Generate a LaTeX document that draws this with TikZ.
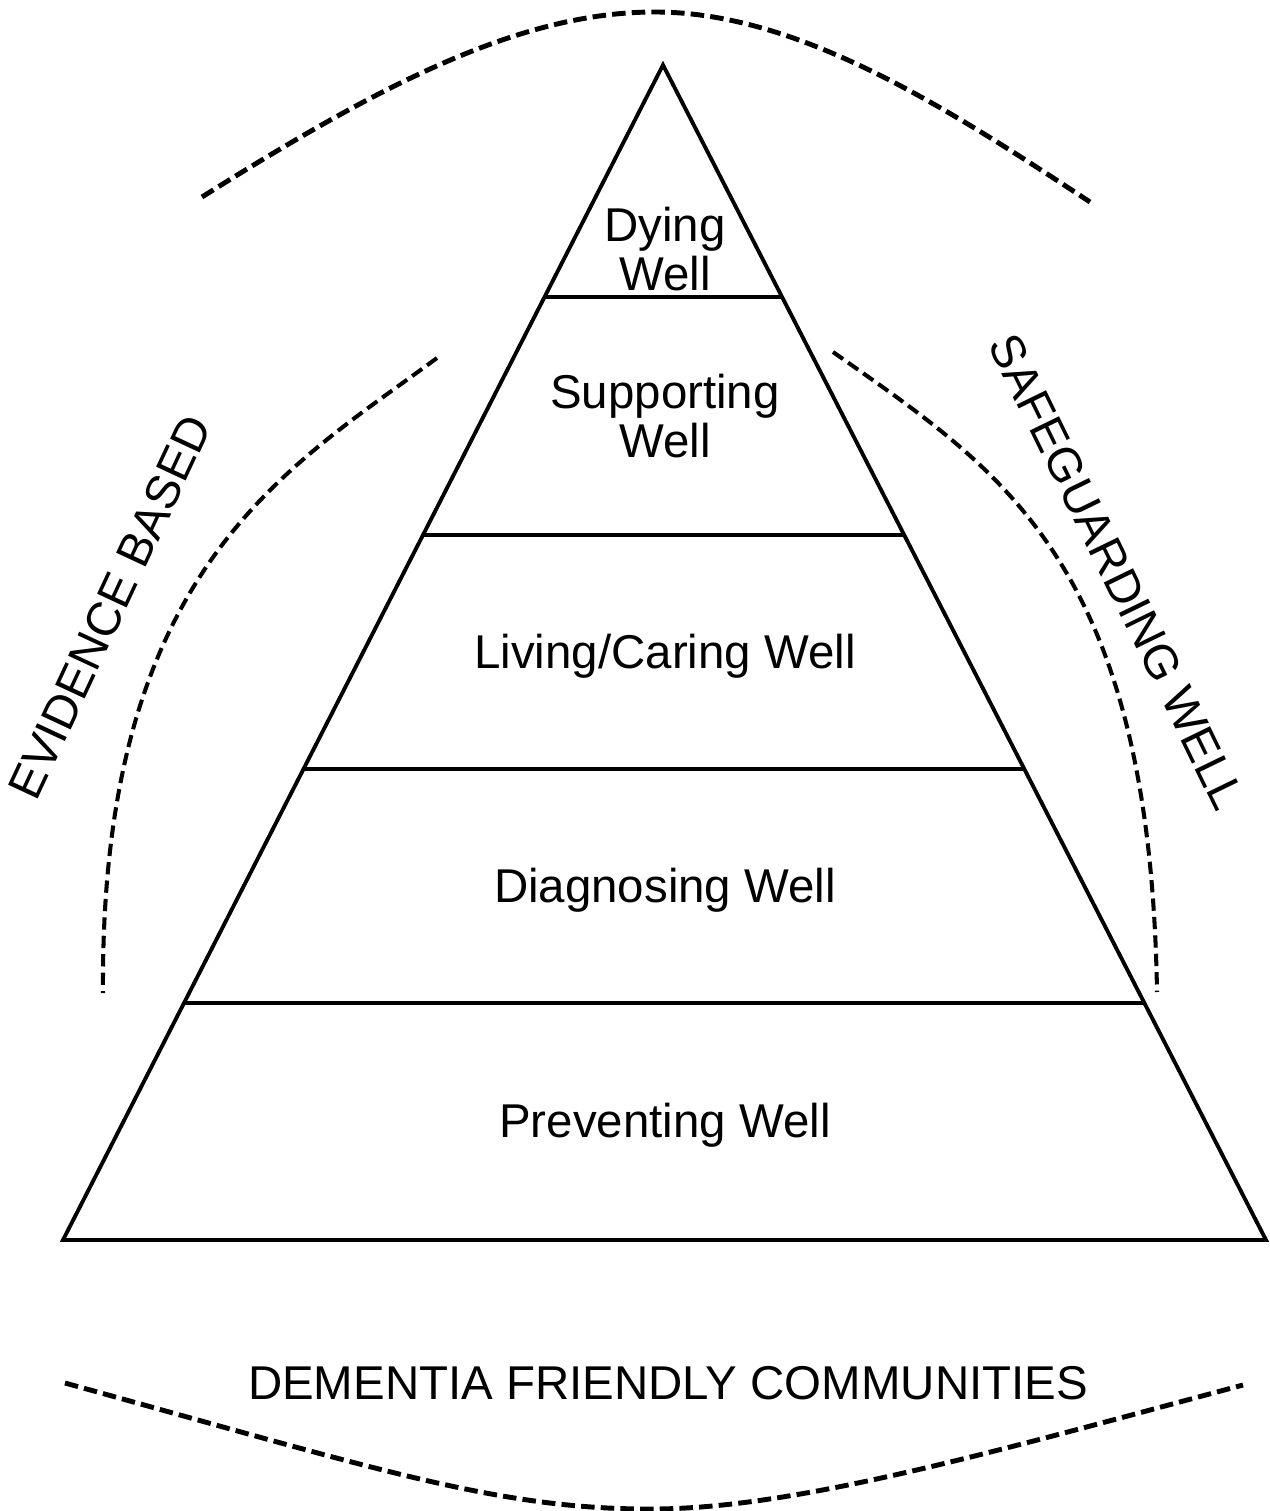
\documentclass[tikz,border=0pt]{standalone}
\usepackage{fontspec}
\setmainfont{Liberation Sans}

\begin{document}
\begin{tikzpicture}[x=0.02cm,y=-0.02cm,
  txt/.style={font=\fontsize{27}{28}\selectfont,align=center,inner sep=0pt},
  edge/.style={line width=2.2pt,line join=miter},
  arch/.style={line width=2.8pt,dash pattern=on 7.7pt off 3.5pt},
  flank/.style={line width=2.3pt,dash pattern=on 7pt off 3.5pt}]

\useasboundingbox (0,0) rectangle (1269,1511) ;

\draw [edge] (663,65) -- (63,1240) -- (1266,1240) -- cycle ;
\draw [edge] (544.5,297) -- (782,297) ;
\draw [edge] (423,535) -- (904,535) ;
\draw [edge] (303.5,769) -- (1024,769) ;
\draw [edge] (184,1003) -- (1144,1003) ;

\node [txt] (dying) at (665,249) {Dying\\Well} ;
\node [txt] (supporting) at (665,416) {Supporting\\Well} ;
\node [txt] (living) at (665,656) {Living/Caring Well} ;
\node [txt] (diagnosing) at (665,890) {Diagnosing Well} ;
\node [txt] (preventing) at (665,1125) {Preventing Well} ;

\draw [arch] (202,197) .. controls (380,85) and (520,12) .. (655,12) .. controls (800,12) and (950,110) .. (1090,202) ;
\draw [flank] (437,358) .. controls (285,470) and (100,570) .. (103,993) ;
\draw [flank] (833,352) .. controls (1000,470) and (1150,560) .. (1157,992) ;
\draw [arch] (65,1383) .. controls (380,1470) and (500,1510) .. (655,1509) .. controls (800,1508) and (1000,1450) .. (1243,1385) ;

\node [txt,rotate=65] (evidence) at (110,607) {EVIDENCE BASED} ;
\node [txt,rotate=-64] (safeguarding) at (1117,572) {SAFEGUARDING WELL} ;
\node [txt] (dementia) at (668,1383) {DEMENTIA FRIENDLY COMMUNITIES} ;

\end{tikzpicture}
\end{document}
